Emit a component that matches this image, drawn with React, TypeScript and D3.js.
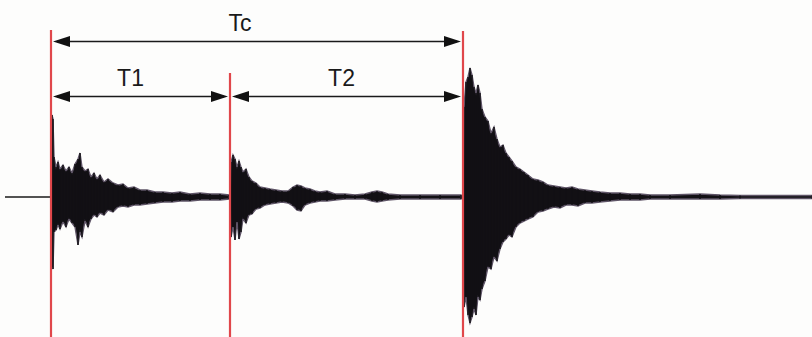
import React, { useEffect, useRef } from 'react';
import * as d3 from 'd3';

// time axis in ms-like units, amplitude above / below the rest line
const burstOne = [
  [46, 0, 0], [47, 82, 70], [48, 78, 72], [49, 40, 35], [51, 30, 33], [53, 35, 28], [55, 28, 32],
  [58, 32, 25], [61, 26, 30], [64, 30, 22], [67, 24, 26], [70, 33, 30], [73, 38, 48], [75, 44, 35],
  [77, 30, 40], [80, 26, 24], [83, 28, 30], [86, 20, 22], [89, 24, 18], [92, 18, 20], [95, 22, 16],
  [99, 15, 18], [103, 18, 13], [108, 14, 15], [113, 12, 10], [118, 13, 9], [123, 9, 10], [129, 10, 8],
  [135, 7, 8], [142, 7, 7], [150, 5, 6], [158, 5, 5], [167, 4, 5], [175, 5, 4], [185, 3, 4],
  [195, 4, 3], [205, 3, 3], [215, 3, 3], [224, 2, 2],
];

const burstTwo = [
  [225, 0, 0], [226, 35, 40], [228, 42, 30], [230, 38, 43], [232, 30, 25], [234, 36, 42], [236, 30, 35],
  [238, 25, 22], [241, 28, 26], [244, 20, 18], [247, 16, 17], [251, 14, 12], [255, 10, 11], [260, 9, 8],
  [265, 8, 7], [271, 7, 6], [277, 6, 5], [283, 6, 6], [288, 10, 9], [292, 12, 13], [296, 11, 14],
  [300, 9, 8], [305, 8, 6], [310, 6, 5], [315, 5, 4], [322, 6, 4], [330, 3, 3], [340, 3, 2],
  [350, 2, 2], [360, 3, 2], [367, 5, 4], [372, 6, 5], [377, 5, 4], [383, 3, 3], [395, 2, 2],
  [415, 2, 2], [435, 2, 2], [456, 2, 2],
];

const burstThree = [
  [458, 0, 0], [459, 90, 110], [461, 115, 100], [463, 120, 118], [465, 129, 126], [467, 122, 120],
  [469, 110, 112], [471, 104, 118], [473, 112, 100], [475, 104, 103], [477, 88, 92], [480, 80, 84],
  [483, 76, 70], [486, 64, 72], [489, 70, 60], [492, 58, 64], [495, 50, 52], [498, 52, 45],
  [501, 44, 42], [504, 40, 38], [507, 36, 40], [511, 30, 30], [515, 28, 26], [519, 25, 24],
  [523, 22, 22], [528, 18, 20], [533, 17, 15], [538, 15, 14], [543, 12, 12], [549, 11, 10],
  [555, 10, 11], [561, 9, 8], [567, 10, 8], [573, 8, 9], [580, 7, 6], [587, 6, 6], [595, 5, 5],
  [605, 4, 4], [615, 4, 3], [625, 3, 3], [635, 3, 3], [645, 2, 2], [665, 2, 2], [695, 3, 2],
  [715, 2, 2], [735, 1.5, 1.5], [807, 1.5, 1.5],
];

const markers = [46, 225, 458];
const spans = [
  { label: 'Tc', from: 46, to: 458, row: 0 },
  { label: 'T1', from: 46, to: 225, row: 1 },
  { label: 'T2', from: 225, to: 458, row: 1 },
];

const App = () => {
  const ref = useRef<SVGSVGElement>(null);

  useEffect(() => {
    const width = 812;
    const height = 337;
    const svg = d3.select(ref.current);
    svg.selectAll('*').remove();

    const x = d3.scaleLinear().domain([0, 807]).range([5, 812]);
    const y = d3.scaleLinear().domain([-130, 130]).range([327, 67]);

    svg.append('rect').attr('width', width).attr('height', height).attr('fill', '#fdfdfc');

    // rest line
    svg.append('line')
      .attr('x1', x(0)).attr('x2', x(807))
      .attr('y1', y(0)).attr('y2', y(0))
      .attr('stroke', '#1a1a1a').attr('stroke-width', 1.5);

    const area = d3.area<number[]>()
      .x(d => x(d[0]))
      .y0(d => y(-d[2]))
      .y1(d => y(d[1]));

    [burstOne, burstTwo, burstThree].forEach(b => {
      svg.append('path').datum(b)
        .attr('d', area)
        .attr('fill', '#121014')
        .attr('stroke', '#5e5466')
        .attr('stroke-width', 1.4)
        .attr('stroke-linejoin', 'miter');
      // spiky look
      svg.append('g').selectAll('line').data(b).enter().append('line')
        .attr('x1', d => x(d[0])).attr('x2', d => x(d[0]))
        .attr('y1', d => y(d[1])).attr('y2', d => y(-d[2]))
        .attr('stroke', '#121014').attr('stroke-width', 1.4);
    });

    // red time markers
    const tops = [30, 73, 31];
    markers.forEach((m, i) => {
      svg.append('line')
        .attr('x1', x(m)).attr('x2', x(m))
        .attr('y1', tops[i]).attr('y2', height)
        .attr('stroke', '#e0474b').attr('stroke-width', 2.2);
    });

    const rowY = [41.5, 96.5];
    const head = (tip: number, dir: number, yy: number) =>
      `M${tip},${yy} L${tip + dir * 17},${yy - 5.5} L${tip + dir * 17},${yy + 5.5} Z`;
    // labels sit a bit left of the span middle in the original
    const labelShift: Record<string, number> = { Tc: -17, T1: -10, T2: -5 };

    spans.forEach(s => {
      const yy = rowY[s.row];
      const a = x(s.from) + 2;
      const b = x(s.to) - 2;
      svg.append('line')
        .attr('x1', a + 4).attr('x2', b - 4)
        .attr('y1', yy).attr('y2', yy)
        .attr('stroke', '#1a1a1a').attr('stroke-width', 1.6);
      svg.append('path').attr('d', head(a, 1, yy)).attr('fill', '#111');
      svg.append('path').attr('d', head(b, -1, yy)).attr('fill', '#111');
      svg.append('text')
        .attr('x', (a + b) / 2 + labelShift[s.label])
        .attr('y', yy - 11)
        .attr('text-anchor', 'middle')
        .style('font-family', 'Liberation Sans, Arial, sans-serif')
        .style('font-size', '23px')
        .attr('fill', '#1a1a1a')
        .text(s.label);
    });
  }, []);

  return (
    <svg ref={ref} width={812} height={337}
      style={{ position: 'fixed', left: 0, top: 0, display: 'block' }} />
  );
};

export default App;
